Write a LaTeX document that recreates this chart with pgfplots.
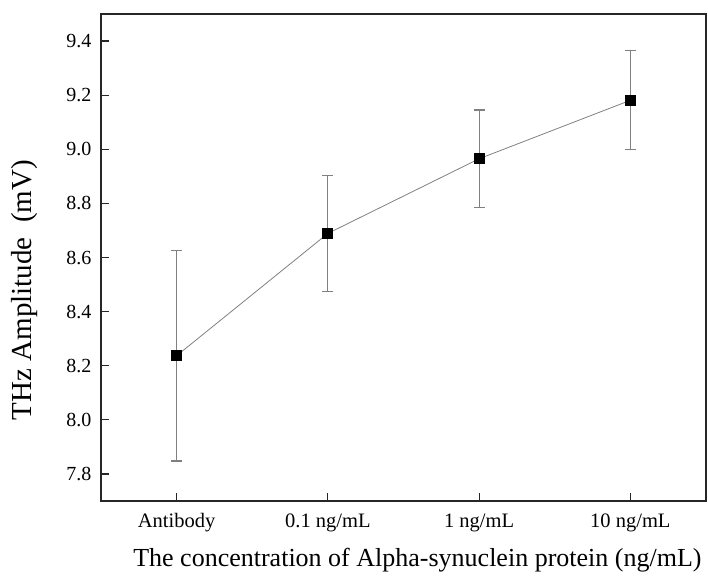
\documentclass[border=0pt]{standalone}
\usepackage{fontspec}
\setmainfont{Liberation Serif}
\usepackage{pgfplots}
\pgfplotsset{compat=1.18}
\begin{document}
\begin{tikzpicture}
\begin{axis}[
  scale only axis,
  width=605pt, height=487pt,
  xmin=-0.5, xmax=3.5,
  ymin=7.7, ymax=9.5,
  xtick={0,1,2,3},
  xticklabels={Antibody,0.1 ng/mL,1 ng/mL,10 ng/mL},
  ytick={7.8,8.0,8.2,8.4,8.6,8.8,9.0,9.2,9.4},
  yticklabel style={/pgf/number format/fixed,/pgf/number format/fixed zerofill,/pgf/number format/precision=1,font=\fontsize{20}{24}\selectfont, xshift=-6pt},
  /pgf/number format/assume math mode=true,
  xticklabel style={font=\fontsize{20.5}{24}\selectfont, yshift=-9pt},
  tick pos=left,
  tick align=inside,
  major tick length=8pt,
  axis line style={line width=1.4pt, black!85},
  every tick/.style={line width=1.2pt, black!85},
  xlabel={The concentration of Alpha-synuclein protein (ng/mL)},
  ylabel={THz Amplitude\ \ (mV)},
  xlabel style={font=\fontsize{26}{31}\selectfont, at={(axis description cs:0.523,-0.121)}, anchor=center},
  ylabel style={font=\fontsize{29}{34}\selectfont, at={(axis description cs:-0.127,0.433)}, anchor=center},
]
\addplot[
  color=black!50, line width=0.8pt,
  mark=square*, mark size=5pt,
  mark options={fill=black, draw=black, solid},
  error bars/.cd,
    y dir=both, y explicit,
    error bar style={color=black!50, line width=1.1pt},
    error mark options={rotate=90, mark size=5.5pt, color=black!50, line width=1.1pt},
] table[x=x, y=y, y error=e] {
x y e
0 8.237 0.389
1 8.689 0.215
2 8.965 0.180
3 9.181 0.183
};
\end{axis}
\path ([shift={(-101pt,-78pt)}]current axis.south west) rectangle ([shift={(2pt,14pt)}]current axis.north east);
\end{tikzpicture}
\end{document}
